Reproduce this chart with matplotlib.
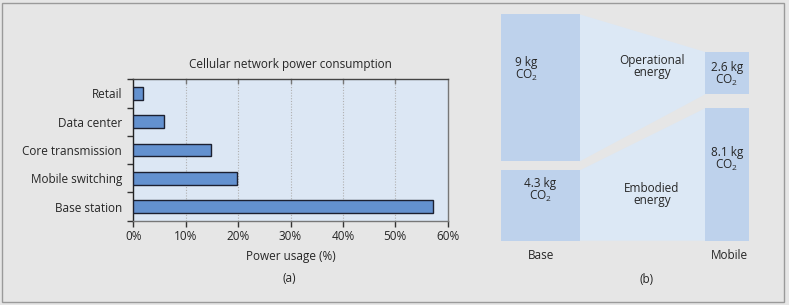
import matplotlib
matplotlib.use("Agg")
import matplotlib.pyplot as plt
from matplotlib.patches import Rectangle, Polygon

plt.rcParams['font.family'] = ['Open Sans', 'DejaVu Sans']
plt.rcParams['mathtext.default'] = 'regular'

# ---- data ----
categories = ["Base station", "Mobile switching", "Core transmission", "Data center", "Retail"]
power_pct = [57.1, 19.7, 14.9, 5.9, 1.8]
x_ticks = [0, 10, 20, 30, 40, 50, 60]
x_ticklabels = ["0%", "10%", "20%", "30%", "40%", "50%", "60%"]

columns = ["Base", "Mobile"]
operational_kg = [9.0, 2.6]
embodied_kg = [4.3, 8.1]
operational_labels = ["9 kg\nCO$_2$", "2.6 kg\nCO$_2$"]
embodied_labels = ["4.3 kg\nCO$_2$", "8.1 kg\nCO$_2$"]

TXT = "#262626"
W, H = 789, 305
fig = plt.figure(figsize=(W / 100, H / 100), dpi=100, facecolor="#e6e6e6")

# outer border
fig.patches.append(Rectangle((2 / W, 1 - 302 / H), 782 / W, 299 / H, transform=fig.transFigure,
                             fill=False, edgecolor="#9a9a9a", linewidth=1.0))

# ---- panel (a) ----
ax = fig.add_axes([133.3 / W, 1 - 220.7 / H, 314.4 / W, 141.4 / H])
ax.set_facecolor("#dce7f4")
ypos = list(range(len(categories)))
ax.barh(ypos, power_pct, height=0.45, color="#6391cf", edgecolor="#1c2030", linewidth=1.0, zorder=3)
ax.set_xlim(0, 60)
ax.set_ylim(-0.5, len(categories) - 0.5)
ax.set_xticks(x_ticks)
ax.set_xticklabels(x_ticklabels, fontsize=8.5, color=TXT)
ax.set_yticks(ypos)
ax.set_yticklabels(categories, fontsize=8.5, color=TXT)
ax.tick_params(axis='y', length=0, pad=8)
# category boundary ticks
ax.set_yticks([y - 0.5 for y in range(len(categories) + 1)], minor=True)
ax.tick_params(axis='y', which='minor', length=4, width=1, color="#333333", direction='out')
ax.tick_params(axis='x', length=4, width=1, color="#333333", direction='out', pad=3)
for x in x_ticks[1:-1]:
    ax.axvline(x, color="#b0b0b0", linestyle=(0, (1, 1.5)), linewidth=0.8, zorder=1)
    ax.plot([x, x], [len(categories) - 0.5, len(categories) - 0.5 - 0.12], color="#777777", lw=1, zorder=2, clip_on=False)
for side, c in [("left", "#222222"), ("top", "#444444"), ("right", "#777777"), ("bottom", "#777777")]:
    ax.spines[side].set_color(c)
    ax.spines[side].set_linewidth(1.0)
ax.set_xlabel("Power usage (%)", fontsize=8.5, color=TXT, labelpad=5)
ax.set_title("Cellular network power consumption", fontsize=8.5, color=TXT, pad=8)
fig.text(289 / W, 1 - 279 / H, "(a)", fontsize=8.5, color=TXT, ha="center", va="center")

# ---- panel (b) ----
bx = fig.add_axes([501 / W, 1 - 240.7 / H, 248 / W, 226.4 / H])
bx.set_xlim(0, 1)
bx.set_ylim(0, 13.85)
bx.axis("off")
col_x = [(0.0, 0.317), (0.823, 1.0)]
gaps = [0.55, 0.85]
BOX = "#bed2ec"
FLOW = "#dce8f5"
op_bottoms = [embodied_kg[i] + gaps[i] for i in range(2)]
op_tops = [op_bottoms[i] + operational_kg[i] for i in range(2)]

# flows
bx.add_patch(Polygon([(col_x[0][1], op_bottoms[0]), (col_x[0][1], op_tops[0]),
                      (col_x[1][0], op_tops[1]), (col_x[1][0], op_bottoms[1])],
                     closed=True, facecolor=FLOW, edgecolor="none"))
bx.add_patch(Polygon([(col_x[0][1], 0), (col_x[0][1], embodied_kg[0]),
                      (col_x[1][0], embodied_kg[1]), (col_x[1][0], 0)],
                     closed=True, facecolor=FLOW, edgecolor="none"))
# boxes
for i in range(2):
    x0, x1 = col_x[i]
    bx.add_patch(Rectangle((x0, 0), x1 - x0, embodied_kg[i], facecolor=BOX, edgecolor="none"))
    bx.add_patch(Rectangle((x0, op_bottoms[i]), x1 - x0, operational_kg[i], facecolor=BOX, edgecolor="none"))

fs = 8.5
ls = 0.9
bx.text(0.056, 10.45, operational_labels[0], fontsize=fs, color=TXT, ha="left", va="center", linespacing=ls)
bx.text(0.158, 3.05, embodied_labels[0], fontsize=fs, color=TXT, ha="center", va="center", linespacing=ls)
bx.text(0.911, (op_bottoms[1] + op_tops[1]) / 2 - 0.1, operational_labels[1], fontsize=fs, color=TXT,
        ha="center", va="center", linespacing=ls)
bx.text(0.911, 4.95, embodied_labels[1], fontsize=fs, color=TXT, ha="center", va="center", linespacing=ls)
bx.text(0.608, 10.65, "Operational\nenergy", fontsize=fs, color=TXT, ha="center", va="center", linespacing=ls)
bx.text(0.608, 2.83, "Embodied\nenergy", fontsize=fs, color=TXT, ha="center", va="center", linespacing=ls)

fig.text(540.7 / W, 1 - 255.7 / H, columns[0], fontsize=fs, color=TXT, ha="center", va="center")
fig.text(729 / W, 1 - 255.7 / H, columns[1], fontsize=fs, color=TXT, ha="center", va="center")
fig.text(647 / W, 1 - 279.3 / H, "(b)", fontsize=fs, color=TXT, ha="center", va="center")

fig.savefig("out.png", dpi=100, facecolor=fig.get_facecolor())
